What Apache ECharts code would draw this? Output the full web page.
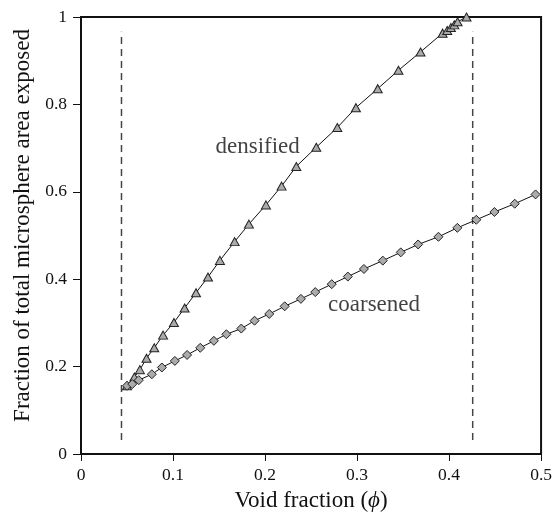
<!DOCTYPE html>
<html>
<head>
<meta charset="utf-8">
<script src="https://cdn.jsdelivr.net/npm/echarts@6/dist/echarts.min.js"></script>
<style>html,body{margin:0;padding:0;background:#fff}#c{width:555px;height:517px}</style>
</head>
<body>
<div id="c"></div>
<script>
const densifiedX = [0.05,0.058,0.064,0.0712,0.0796,0.0892,0.101,0.1126,0.125,0.138,0.151,0.167,0.1825,0.201,0.218,0.234,0.2557,0.2786,0.2988,0.3225,0.345,0.369,0.393,0.398,0.402,0.4057,0.4093,0.419];
const densifiedY = [0.156,0.176,0.193,0.219,0.243,0.272,0.301,0.334,0.369,0.405,0.443,0.486,0.526,0.570,0.613,0.658,0.702,0.747,0.7925,0.836,0.878,0.920,0.963,0.969,0.976,0.982,0.989,1.0];
const coarsenedX = [0.05,0.0557,0.0628,0.077,0.0879,0.102,0.1153,0.1296,0.1444,0.158,0.1742,0.1886,0.2046,0.2214,0.239,0.2546,0.2725,0.290,0.3075,0.328,0.3475,0.3664,0.3885,0.409,0.4296,0.4493,0.4714,0.494];
const coarsenedY = [0.156,0.160,0.169,0.1825,0.198,0.213,0.2266,0.243,0.259,0.274,0.287,0.305,0.3205,0.338,0.355,0.3705,0.3886,0.406,0.4234,0.4425,0.4614,0.4795,0.497,0.5175,0.536,0.5538,0.5727,0.594];
const boundX = [0.044, 0.4257];
const boundY = [0.032, 0.966];
const xTicks = [0, 0.1, 0.2, 0.3, 0.4, 0.5];
const yTicks = [0, 0.2, 0.4, 0.6, 0.8, 1];
const labelTexts = ['densified', 'coarsened'];
const labelPos = [[0.192, 0.702], [0.3185, 0.341]];

const FONT = '"Liberation Serif", "DejaVu Serif", serif';
const TXT = '#111';
const zip = (a, b) => a.map((v, i) => [v, b[i]]);

const chart = echarts.init(document.getElementById('c'));
const series = [
  {
    type: 'line', data: zip(densifiedX, densifiedY),
    symbol: 'triangle', symbolSize: [9, 8],
    lineStyle: { color: '#111', width: 1 },
    itemStyle: { color: '#ababab', borderColor: '#222', borderWidth: 1 },
    z: 5, animation: false
  },
  {
    type: 'line', data: zip(coarsenedX, coarsenedY),
    symbol: 'diamond', symbolSize: [9, 9],
    lineStyle: { color: '#111', width: 1 },
    itemStyle: { color: '#ababab', borderColor: '#222', borderWidth: 1 },
    z: 5, animation: false
  }
];
boundX.forEach(x => series.push({
  type: 'line', data: [[x, boundY[0]], [x, boundY[1]]],
  symbol: 'none', lineStyle: { color: '#444', width: 1.5, type: [7, 5] },
  z: 3, animation: false, silent: true
}));
series.push({
  type: 'scatter', symbolSize: 0, silent: true, animation: false,
  data: labelTexts.map((t, i) => ({ value: labelPos[i], label: { formatter: t } })),
  label: { show: true, position: 'inside', fontFamily: FONT, fontSize: 23, color: TXT }
});

chart.setOption({
  animation: false,
  grid: { left: 81, right: 8, top: 17, bottom: 60, show: true, borderColor: '#111', borderWidth: 2 },
  xAxis: {
    type: 'value', min: 0, max: 0.5, interval: 0.1,
    name: 'Void fraction ({i|ϕ})', nameLocation: 'middle', nameGap: 35,
    nameTextStyle: { fontFamily: FONT, fontSize: 23, color: TXT, rich: { i: { fontFamily: FONT, fontStyle: 'italic', fontSize: 23, color: TXT } } },
    axisLine: { show: true, lineStyle: { color: '#111', width: 2 } },
    axisTick: { show: true, inside: false, length: 7, lineStyle: { color: '#111', width: 1 } },
    axisLabel: { fontFamily: FONT, fontSize: 17.5, color: TXT, margin: 12, formatter: v => xTicks.includes(+v.toFixed(2)) ? String(+v.toFixed(1)) : '' },
    splitLine: { show: false }
  },
  yAxis: {
    type: 'value', min: 0, max: 1, interval: 0.2,
    name: 'Fraction of total microsphere area exposed', nameLocation: 'middle', nameGap: 46,
    nameTextStyle: { fontFamily: FONT, fontSize: 23, color: TXT, padding: [0, 0, 0, 20] },
    axisLine: { show: true, lineStyle: { color: '#111', width: 2 } },
    axisTick: { show: true, inside: false, length: 8, lineStyle: { color: '#111', width: 1 } },
    axisLabel: { fontFamily: FONT, fontSize: 17.5, color: TXT, margin: 14, formatter: v => yTicks.includes(+v.toFixed(2)) ? String(+v.toFixed(1)) : '' },
    splitLine: { show: false }
  },
  series: series
});
</script>
</body>
</html>
